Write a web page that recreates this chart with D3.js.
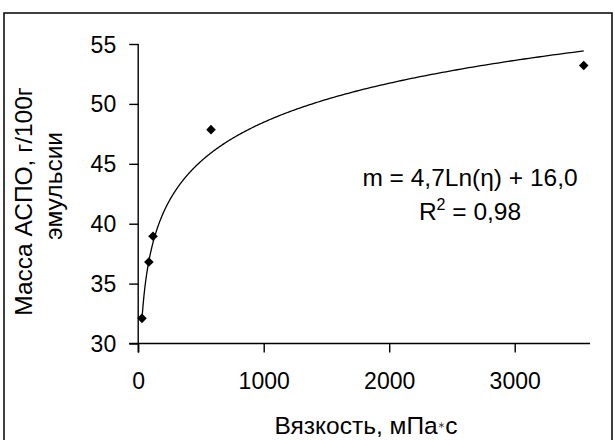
<!DOCTYPE html>
<html>
<head>
<meta charset="utf-8">
<script src="https://cdn.jsdelivr.net/npm/d3@7"></script>
<style>
  html, body { margin: 0; padding: 0; background: #fff; }
  svg text { font-family: "Liberation Sans", Arial, sans-serif; fill: #000; }
</style>
</head>
<body>
<svg id="chart" width="615" height="440"></svg>
<script>
// ---- data ----
const viscosity = [30, 85, 118, 580, 3550];          // мПа·с
const massASPO  = [32.1, 36.8, 38.95, 47.85, 53.2];  // г/100г эмульсии
const xTicks = [0, 1000, 2000, 3000];
const yTicks = [30, 35, 40, 45, 50, 55];
const trendA = 4.7;   // m = a·Ln(η) + b
const trendB = 16.0;
const xTitle = "Вязкость, мПа";
const yTitleLines = ["Масса АСПО, г/100г", "эмульсии"];
const eqText = "m = 4,7Ln(η) + 16,0";
const r2Text = "0,98";

const svg = d3.select("#chart");
const fs = 23;      // tick labels
const fsT = 24.5;   // titles and equation

// outer frame
svg.append("rect")
  .attr("x", 4).attr("y", 13).attr("width", 608).attr("height", 440)
  .attr("fill", "none").attr("stroke", "#000").attr("stroke-width", 1.5);

const x = d3.scaleLinear().domain([0, 3600]).range([138.2, 590]);
const y = d3.scaleLinear().domain([30, 55]).range([343.5, 44]);

// y axis
const gy = svg.append("g").attr("transform", `translate(${x(0)},0)`)
  .call(d3.axisLeft(y).tickValues(yTicks).tickSize(9).tickSizeOuter(0).tickFormat(d3.format("d")));
gy.select(".domain").attr("stroke", "#000").attr("stroke-width", 1.4)
  .attr("d", `M0,${y(55)}V${y(30) + 9}`);
gy.selectAll(".tick line").attr("stroke", "#000").attr("stroke-width", 1.4);
gy.selectAll(".tick text").attr("x", -22).attr("dy", "0.35em")
  .style("font-size", fs + "px").style("font-family", '"Liberation Sans", Arial, sans-serif');

// x axis
const gx = svg.append("g").attr("transform", `translate(0,${y(30)})`)
  .call(d3.axisBottom(x).tickValues(xTicks).tickSize(9).tickSizeOuter(0).tickFormat(d3.format("d")));
gx.select(".domain").attr("stroke", "#000").attr("stroke-width", 1.4)
  .attr("d", `M${x(0) - 9},0H${x(3600)}`);
gx.selectAll(".tick line").attr("stroke", "#000").attr("stroke-width", 1.4);
gx.selectAll(".tick text").attr("y", 45.5).attr("dy", 0)
  .style("font-size", fs + "px").style("font-family", '"Liberation Sans", Arial, sans-serif');

// trend line
const xmin = d3.min(viscosity), xmax = d3.max(viscosity);
const trendPts = d3.range(0, 401).map(i => {
  const v = xmin * Math.pow(xmax / xmin, i / 400);
  return [v, trendA * Math.log(v) + trendB];
});
svg.append("path")
  .attr("d", d3.line().x(d => x(d[0])).y(d => y(d[1]))(trendPts))
  .attr("fill", "none").attr("stroke", "#000").attr("stroke-width", 1.3);

// markers (square diamonds)
const pts = viscosity.map((v, i) => [v, massASPO[i]]);
svg.selectAll("path.pt").data(pts).enter().append("path")
  .attr("class", "pt")
  .attr("d", d3.symbol(d3.symbolSquare, 46)())
  .attr("transform", d => `translate(${x(d[0])},${y(d[1])}) rotate(45)`)
  .attr("fill", "#000");

// equation text
svg.append("text").attr("x", 470).attr("y", 186).attr("text-anchor", "middle")
  .style("font-size", fsT + "px").text(eqText);
const r2 = svg.append("text").attr("x", 470).attr("y", 220).attr("text-anchor", "middle")
  .style("font-size", fsT + "px");
r2.append("tspan").text("R");
r2.append("tspan").attr("dy", -10).style("font-size", "16px").text("2");
r2.append("tspan").attr("dy", 10).text(" = " + r2Text);

// x title
const xt = svg.append("text").attr("x", 366).attr("y", 434).attr("text-anchor", "middle")
  .style("font-size", fsT + "px");
xt.append("tspan").text(xTitle);
xt.append("tspan").attr("dy", -6).style("font-size", "9px").style("fill", "#444")
  .style("font-family", '"DejaVu Sans", sans-serif').text("∗");
xt.append("tspan").attr("dy", 6).text("с");

// y title (two lines, rotated)
const yCenters = [201.5, 186];
const yBase = [32, 62];
yTitleLines.forEach((t, i) => {
  svg.append("text")
    .attr("transform", `translate(${yBase[i]},${yCenters[i]}) rotate(-90)`)
    .attr("text-anchor", "middle")
    .style("font-size", fsT + "px")
    .text(t);
});
</script>
</body>
</html>
